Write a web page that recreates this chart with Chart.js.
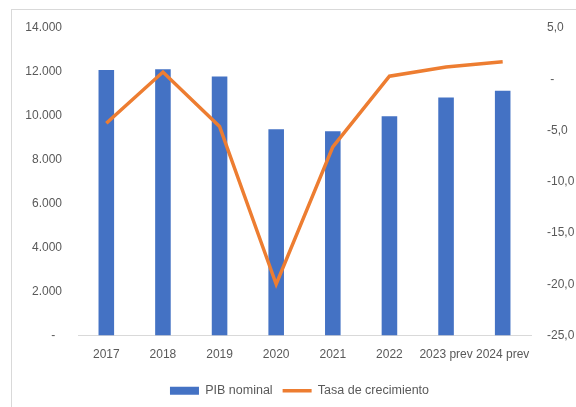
<!DOCTYPE html>
<html>
<head>
<meta charset="utf-8">
<script src="https://cdn.jsdelivr.net/npm/chart.js@4/dist/chart.umd.min.js"></script>
<style>
  html, body { margin: 0; padding: 0; background: #fff; overflow: hidden; }
  #wrap { position: relative; width: 576px; height: 407px; overflow: hidden; }
  #frame { position: absolute; left: 11px; top: 9px; width: 700px; height: 500px; border: 1px solid #d9d9d9; box-sizing: border-box; }
  canvas { position: absolute; left: 0; top: 0; }
</style>
</head>
<body>
<div id="wrap">
  <div id="frame"></div>
  <canvas id="c" width="576" height="407"></canvas>
</div>
<script>
const categories = ["2017", "2018", "2019", "2020", "2021", "2022", "2023 prev", "2024 prev"];
const pibNominal = [12085, 12117, 11797, 9394, 9303, 9987, 10840, 11141];
const tasaCrecimiento = [-4.3, 0.7, -4.6, -20.0, -6.6, 0.3, 1.2, 1.7];
const leftTicks = [0, 2000, 4000, 6000, 8000, 10000, 12000, 14000];
const rightTicks = [-25, -20, -15, -10, -5, 0, 5];
const seriesNames = ["PIB nominal", "Tasa de crecimiento"];

const BLUE = '#4472C4';
const ORANGE = '#ED7D31';
const TEXT = '#595959';
const FONT = { family: '"Liberation Sans", Arial, sans-serif', size: 12 };
const LEGEND_FONT = { family: '"Liberation Sans", Arial, sans-serif', size: 12.5 };

function fmtLeft(v) {
  if (v === 0) return '-  ';
  return String(v).replace(/\B(?=(\d{3})+(?!\d))/g, '.');
}
function fmtRight(v) {
  if (v === 0) return ' -';
  return v.toFixed(1).replace('.', ',');
}

new Chart(document.getElementById('c'), {
  data: {
    labels: categories,
    datasets: [
      {
        type: 'line',
        label: seriesNames[1],
        data: tasaCrecimiento,
        yAxisID: 'y1',
        borderColor: ORANGE,
        backgroundColor: ORANGE,
        borderWidth: 3.5,
        pointRadius: 0,
        pointHoverRadius: 0,
        tension: 0,
        order: 0
      },
      {
        type: 'bar',
        label: seriesNames[0],
        data: pibNominal,
        yAxisID: 'y',
        backgroundColor: BLUE,
        borderWidth: 0,
        categoryPercentage: 1,
        barPercentage: 0.275,
        order: 1
      }
    ]
  },
  options: {
    responsive: false,
    animation: false,
    devicePixelRatio: 1,
    layout: { padding: { top: 28, left: 23, right: 0, bottom: 0 } },
    plugins: {
      tooltip: { enabled: false },
      legend: {
        position: 'bottom',
        labels: {
          color: TEXT,
          font: LEGEND_FONT,
          usePointStyle: true,
          pointStyleWidth: 29,
          boxWidth: 29,
          boxHeight: 8,
          padding: 10,
          sort: (a, b) => (a.text === seriesNames[0] ? -1 : 1),
          generateLabels(chart) {
            const items = Chart.defaults.plugins.legend.labels.generateLabels(chart);
            items.forEach(it => {
              if (it.text === seriesNames[0]) {
                it.pointStyle = 'rect';
                it.fillStyle = BLUE;
                it.strokeStyle = BLUE;
                it.lineWidth = 0;
              } else {
                it.pointStyle = 'line';
                it.strokeStyle = ORANGE;
                it.lineWidth = 3.5;
              }
            });
            return items;
          }
        }
      }
    },
    scales: {
      x: {
        grid: { display: false, drawTicks: false },
        border: { display: true, color: '#d9d9d9', width: 1 },
        ticks: { color: TEXT, font: FONT, padding: 12, maxRotation: 0, autoSkip: false },
        afterFit(s) { s.height = 39; }
      },
      y: {
        position: 'left',
        min: 0, max: 14000,
        afterBuildTicks(s) { s.ticks = leftTicks.map(v => ({ value: v })); },
        grid: { display: false, drawTicks: false },
        border: { display: false },
        ticks: { color: TEXT, font: FONT, padding: 16, callback: fmtLeft },
        afterFit(s) { s.width = 55; }
      },
      y1: {
        position: 'right',
        min: -25, max: 5,
        afterBuildTicks(s) { s.ticks = rightTicks.map(v => ({ value: v })); },
        grid: { display: false, drawTicks: false },
        border: { display: false },
        ticks: { color: TEXT, font: FONT, padding: 16, callback: fmtRight },
        afterFit(s) { s.width = 45; }
      }
    }
  }
});
</script>
</body>
</html>
